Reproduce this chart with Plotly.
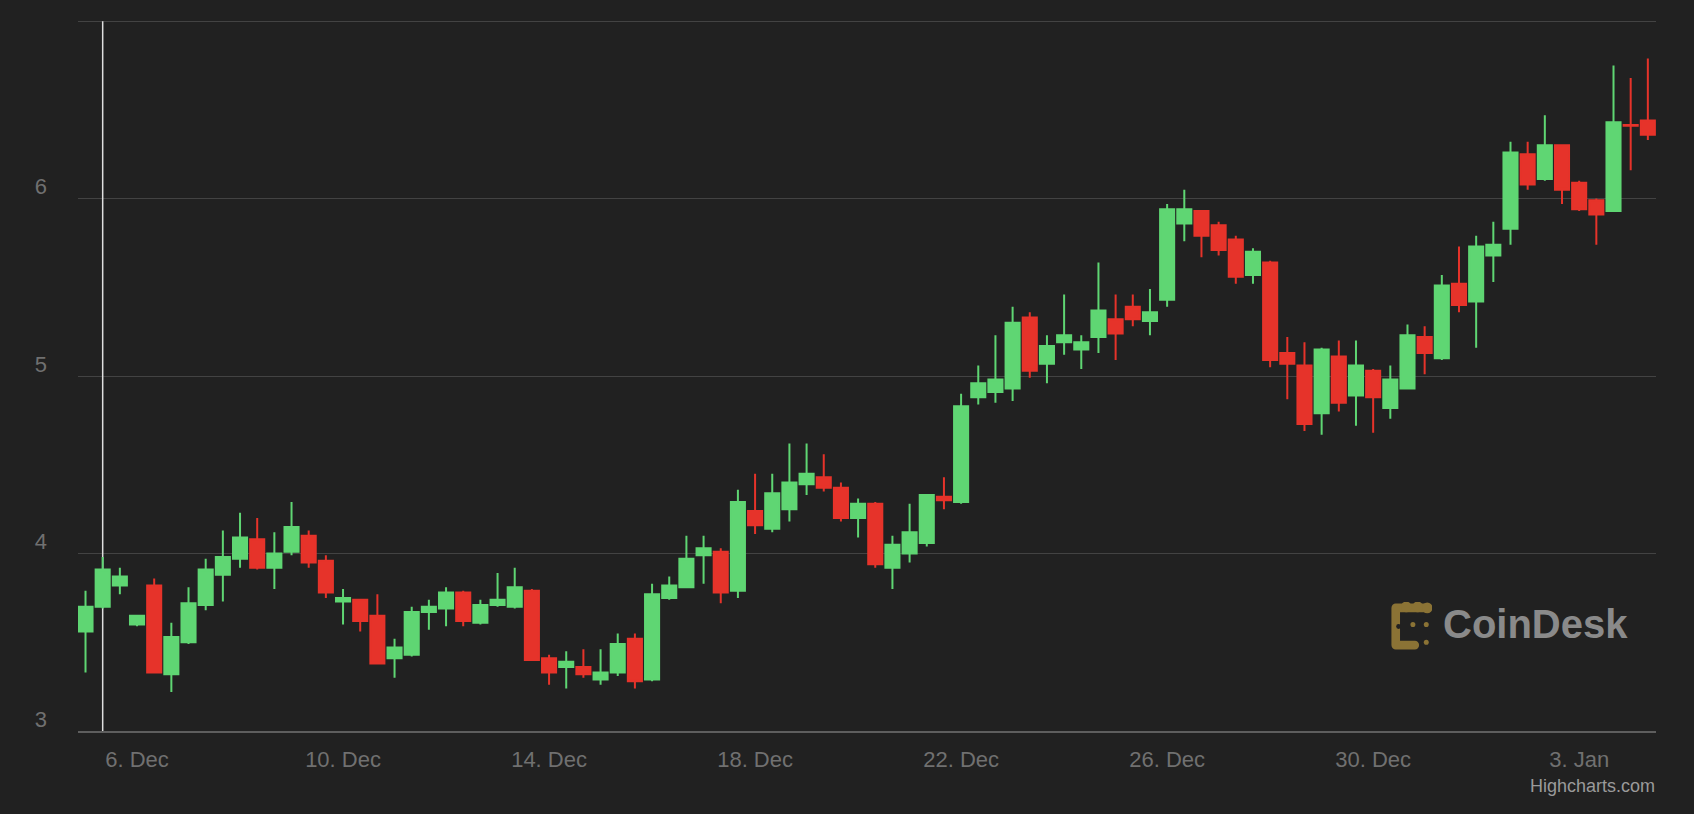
import base64
import pandas as pd
import plotly.graph_objects as go

# ---------------- data ----------------
times = pd.date_range("2023-12-05 00:00", periods=92, freq="8h")

open_ = [3.56, 3.70, 3.82, 3.60, 3.82, 3.32, 3.50, 3.71, 3.88, 3.97,
         4.08, 3.92, 4.01, 4.10, 3.96, 3.73, 3.74, 3.65, 3.41, 3.43,
         3.67, 3.69, 3.78, 3.61, 3.71, 3.70, 3.79, 3.41, 3.36, 3.36,
         3.29, 3.33, 3.52, 3.29, 3.75, 3.81, 3.99, 4.01, 3.79, 4.24,
         4.14, 4.25, 4.39, 4.43, 4.37, 4.20, 4.28, 3.92, 4.00, 4.06,
         4.32, 4.29, 4.88, 4.91, 4.93, 5.33, 5.07, 5.19, 5.15, 5.22,
         5.32, 5.39, 5.31, 5.43, 5.86, 5.93, 5.85, 5.77, 5.57, 5.64,
         5.13, 5.06, 4.79, 5.11, 4.89, 5.03, 4.82, 4.93, 5.22, 5.10,
         5.52, 5.42, 5.68, 5.83, 6.25, 6.11, 6.30, 6.09, 5.99, 5.93,
         6.415, 6.44]
high = [3.79, 3.98, 3.92, 3.65, 3.86, 3.61, 3.81, 3.97, 4.13, 4.23,
        4.20, 4.12, 4.29, 4.13, 3.99, 3.80, 3.74, 3.77, 3.52, 3.70,
        3.74, 3.81, 3.79, 3.74, 3.89, 3.92, 3.80, 3.43, 3.45, 3.46,
        3.46, 3.55, 3.55, 3.83, 3.87, 4.10, 4.10, 4.03, 4.36, 4.45,
        4.45, 4.62, 4.62, 4.56, 4.40, 4.31, 4.29, 4.10, 4.28, 4.33,
        4.43, 4.90, 5.06, 5.23, 5.39, 5.36, 5.23, 5.46, 5.23, 5.64,
        5.46, 5.46, 5.49, 5.97, 6.05, 5.93, 5.87, 5.79, 5.72, 5.65,
        5.22, 5.19, 5.16, 5.20, 5.20, 5.04, 5.06, 5.29, 5.28, 5.57,
        5.73, 5.79, 5.87, 6.32, 6.32, 6.47, 6.30, 6.10, 6.00, 6.75,
        6.68, 6.79]
low = [3.33, 3.69, 3.77, 3.59, 3.33, 3.22, 3.49, 3.68, 3.73, 3.92,
       3.91, 3.80, 3.99, 3.92, 3.75, 3.60, 3.56, 3.38, 3.30, 3.42,
       3.57, 3.59, 3.59, 3.60, 3.70, 3.69, 3.40, 3.26, 3.24, 3.30,
       3.26, 3.31, 3.24, 3.28, 3.74, 3.81, 3.83, 3.72, 3.75, 4.11,
       4.12, 4.18, 4.33, 4.35, 4.18, 4.09, 3.92, 3.80, 3.95, 4.04,
       4.25, 4.28, 4.84, 4.85, 4.86, 4.99, 4.96, 5.12, 5.04, 5.13,
       5.09, 5.28, 5.23, 5.39, 5.76, 5.67, 5.68, 5.52, 5.52, 5.05,
       4.87, 4.69, 4.67, 4.80, 4.72, 4.68, 4.76, 4.93, 5.01, 5.09,
       5.36, 5.16, 5.53, 5.74, 6.05, 6.10, 5.97, 5.93, 5.74, 5.93,
       6.16, 6.33]
close = [3.70, 3.91, 3.87, 3.65, 3.33, 3.53, 3.72, 3.91, 3.98, 4.09,
         3.92, 4.00, 4.15, 3.95, 3.78, 3.75, 3.62, 3.38, 3.47, 3.67,
         3.70, 3.78, 3.62, 3.71, 3.74, 3.81, 3.40, 3.33, 3.39, 3.32,
         3.33, 3.49, 3.28, 3.77, 3.82, 3.97, 4.03, 3.78, 4.29, 4.16,
         4.34, 4.40, 4.45, 4.37, 4.20, 4.28, 3.94, 4.05, 4.12, 4.33,
         4.30, 4.83, 4.96, 4.98, 5.30, 5.03, 5.17, 5.23, 5.19, 5.37,
         5.24, 5.32, 5.36, 5.94, 5.94, 5.79, 5.71, 5.56, 5.70, 5.09,
         5.07, 4.73, 5.15, 4.85, 5.06, 4.88, 4.98, 5.23, 5.13, 5.51,
         5.40, 5.73, 5.74, 6.26, 6.08, 6.30, 6.05, 5.94, 5.91, 6.43,
         6.41, 6.36]

x_tick_dates = ["2023-12-06", "2023-12-10", "2023-12-14", "2023-12-18",
                "2023-12-22", "2023-12-26", "2023-12-30", "2024-01-03"]
x_tick_labels = ["6. Dec", "10. Dec", "14. Dec", "18. Dec",
                 "22. Dec", "26. Dec", "30. Dec", "3. Jan"]
y_tick_values = [3, 4, 5, 6, 7]
y_tick_labels = ["3", "4", "5", "6", ""]

# ---------------- styles ----------------
BG = "#212121"
GREEN = "#5fd673"
RED = "#e6332a"
GRID = "#434343"
LABEL = "#707070"
FONT = "Liberation Sans, Arial, Helvetica, sans-serif"

fig = go.Figure(
    go.Candlestick(
        x=times, open=open_, high=high, low=low, close=close,
        increasing=dict(line=dict(color=GREEN, width=2), fillcolor=GREEN),
        decreasing=dict(line=dict(color=RED, width=2), fillcolor=RED),
        whiskerwidth=0,
        hoverinfo="skip",
    )
)

# crosshair line at the hovered candle
fig.add_shape(type="line", xref="x", yref="y",
              x0=times[1], x1=times[1], y0=3, y1=7,
              line=dict(color="#dedede", width=1.5), layer="between")

# CoinDesk icon as inline svg
svg = """<svg xmlns='http://www.w3.org/2000/svg' width='44' height='50' viewBox='0 0 44 50'>
<g fill='none' stroke='#8b7335' stroke-width='9' stroke-linecap='round' stroke-linejoin='round'>
<path d='M39 6 L6 6 L6 44 L26 44'/>
</g>
<g fill='#8b7335'>
<circle cx='17' cy='5' r='5.5'/><circle cx='29' cy='5' r='5.5'/><circle cx='39' cy='6' r='5.5'/>
<circle cx='24' cy='23' r='2.6'/><circle cx='38' cy='23' r='2.6'/><circle cx='38' cy='41' r='2.6'/>
</g>
<circle cx='9' cy='25' r='2.5' fill='#212121'/>
</svg>"""
svg_uri = "data:image/svg+xml;base64," + base64.b64encode(svg.encode()).decode()

L, R, T, B = 78, 38, 19, 83
W, H = 1694, 814
PW, PH = W - L - R, H - T - B


def px(xp):
    return (xp - L) / PW


def py(yp):
    return (H - B - yp) / PH


fig.add_layout_image(dict(source=svg_uri, xref="paper", yref="paper",
                          x=px(1390), y=py(602), sizex=42 / PW, sizey=49 / PH,
                          xanchor="left", yanchor="top", sizing="stretch",
                          layer="above"))

fig.add_annotation(text="<b>CoinDesk</b>", xref="paper", yref="paper",
                   x=px(1441), y=py(624), xanchor="left", yanchor="middle",
                   showarrow=False, font=dict(family=FONT, size=40, color="#8a8a8a"))

fig.add_annotation(text="Highcharts.com", xref="paper", yref="paper",
                   x=px(1657), y=py(786), xanchor="right", yanchor="middle",
                   showarrow=False, font=dict(family=FONT, size=18, color="#9a9a9a"))

x_start = times[0] - pd.Timedelta(hours=3.5)
x_end = times[-1] + pd.Timedelta(hours=3.8)

fig.update_layout(
    width=W, height=H,
    margin=dict(l=L, r=R, t=T, b=B, pad=0),
    paper_bgcolor=BG, plot_bgcolor=BG,
    showlegend=False,
    boxgap=0.18, boxgroupgap=0,
    hovermode=False,
    xaxis=dict(
        type="date", range=[x_start, x_end],
        tickvals=x_tick_dates, ticktext=x_tick_labels,
        showgrid=False, zeroline=False,
        showline=True, linecolor="#5e5e5e", linewidth=1.5,
        ticks="", ticklabelstandoff=8,
        tickfont=dict(family=FONT, size=22, color=LABEL),
        rangeslider=dict(visible=False),
        fixedrange=True,
    ),
    yaxis=dict(
        range=[3, 7.012],
        tickvals=y_tick_values, ticktext=y_tick_labels,
        showgrid=True, gridcolor=GRID, gridwidth=1,
        zeroline=False, showline=False, ticks="",
        ticklabelstandoff=30, ticklabelshift=-12,
        tickfont=dict(family=FONT, size=22, color=LABEL),
        fixedrange=True,
    ),
)

fig.write_html("out.html")
